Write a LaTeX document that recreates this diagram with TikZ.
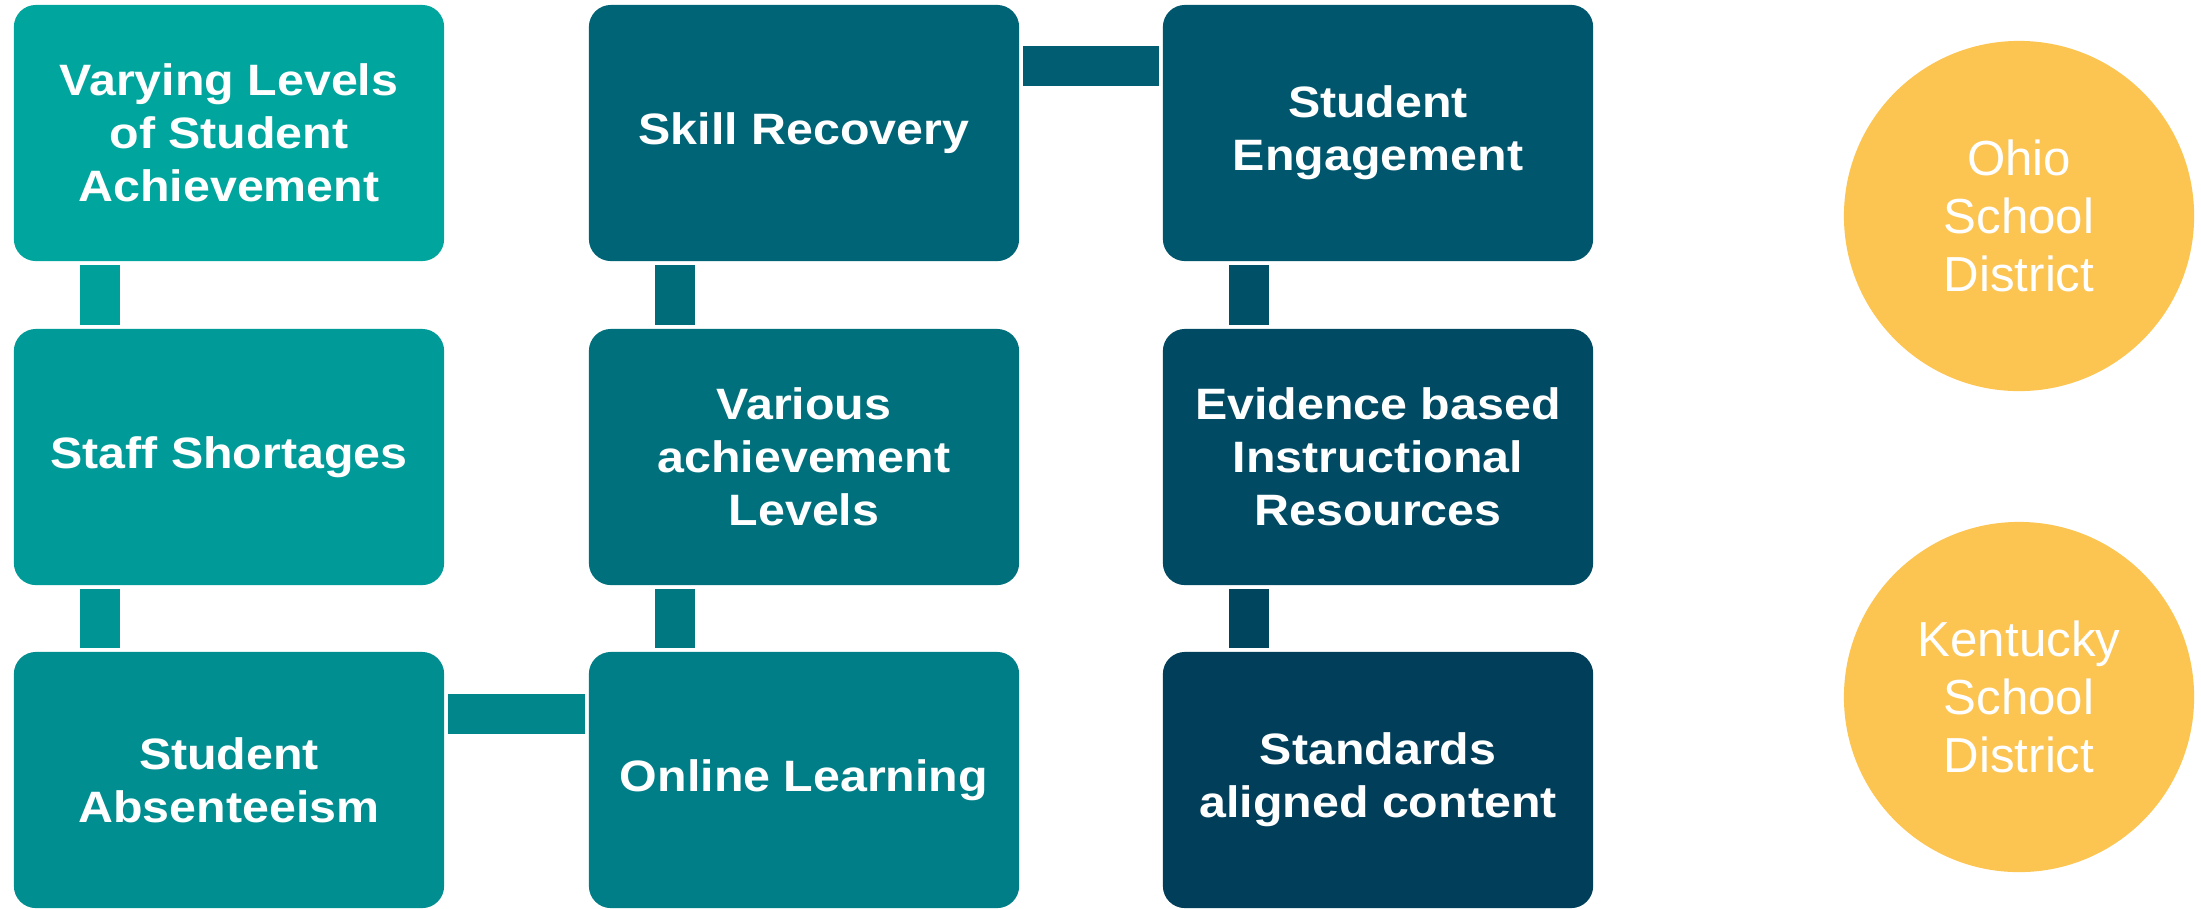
\documentclass[tikz,border=0pt]{standalone}
\usepackage{fontspec}
\setmainfont{Liberation Sans}
\newfontfamily\boxfont{Liberation Sans}[FakeStretch=1.1]
\definecolor{tealA}{HTML}{00A69D}
\definecolor{tealB}{HTML}{009B98}
\definecolor{tealC}{HTML}{008E90}
\definecolor{petrolA}{HTML}{006477}
\definecolor{petrolB}{HTML}{00717C}
\definecolor{petrolC}{HTML}{007E87}
\definecolor{navyA}{HTML}{00566C}
\definecolor{navyB}{HTML}{004B63}
\definecolor{navyC}{HTML}{003E5A}
\definecolor{gold}{HTML}{FCC451}

\begin{document}
\begin{tikzpicture}[x=0.01cm,y=-0.01cm,
    box/.style={rounded corners=0.22cm, minimum width=4.3cm, minimum height=2.56cm,
      align=center, text=white, inner sep=0pt,
      font=\boxfont\bfseries\fontsize{12.5}{15}\selectfont},
    district/.style={circle, fill=gold, minimum size=3.5cm, inner sep=0pt,
      align=center, text=white, font=\fontsize{14}{16.5}\selectfont},
    bar/.style={line width=0.4cm, shorten <=0.03cm, shorten >=0.03cm}]
  \useasboundingbox (0,0) rectangle (2201,908);
  % first column
  \node[box, fill=tealA] (vl) at (229,133) {Varying Levels\\of Student\\Achievement};
  \node[box, fill=tealB] (ss) at (229,457) {Staff Shortages};
  \node[box, fill=tealC] (sa) at (229,780) {Student\\Absenteeism};
  % second column
  \node[box, fill=petrolA] (sr) at (804,133) {Skill Recovery};
  \node[box, fill=petrolB] (va) at (804,457) {Various\\achievement\\Levels};
  \node[box, fill=petrolC] (ol) at (804,780) {Online Learning};
  % third column
  \node[box, fill=navyA] (se) at (1378,133) {Student\\Engagement};
  \node[box, fill=navyB] (eb) at (1378,457) {Evidence based\\Instructional\\Resources};
  \node[box, fill=navyC] (sc) at (1378,780) {Standards\\aligned content};
  % districts
  \node[district] (ohio) at (2019,216) {Ohio\\School\\District};
  \node[district] (ky) at (2019,697) {Kentucky\\School\\District};
  % vertical bars
  \draw[bar, draw=tealA!50!tealB] ([xshift=0.87cm]vl.south west) -- ([xshift=0.87cm]ss.north west);
  \draw[bar, draw=tealB!50!tealC] ([xshift=0.87cm]ss.south west) -- ([xshift=0.87cm]sa.north west);
  \draw[bar, draw=petrolA!50!petrolB] ([xshift=0.87cm]sr.south west) -- ([xshift=0.87cm]va.north west);
  \draw[bar, draw=petrolB!50!petrolC] ([xshift=0.87cm]va.south west) -- ([xshift=0.87cm]ol.north west);
  \draw[bar, draw=navyA!50!navyB] ([xshift=0.87cm]se.south west) -- ([xshift=0.87cm]eb.north west);
  \draw[bar, draw=navyB!50!navyC] ([xshift=0.87cm]eb.south west) -- ([xshift=0.87cm]sc.north west);
  % horizontal bars
  \draw[bar, draw=tealC!50!petrolC] ([yshift=-0.63cm]sa.north east) -- ([yshift=-0.63cm]ol.north west);
  \draw[bar, draw=petrolA!50!navyA] ([yshift=-0.62cm]sr.north east) -- ([yshift=-0.62cm]se.north west);
\end{tikzpicture}
\end{document}
